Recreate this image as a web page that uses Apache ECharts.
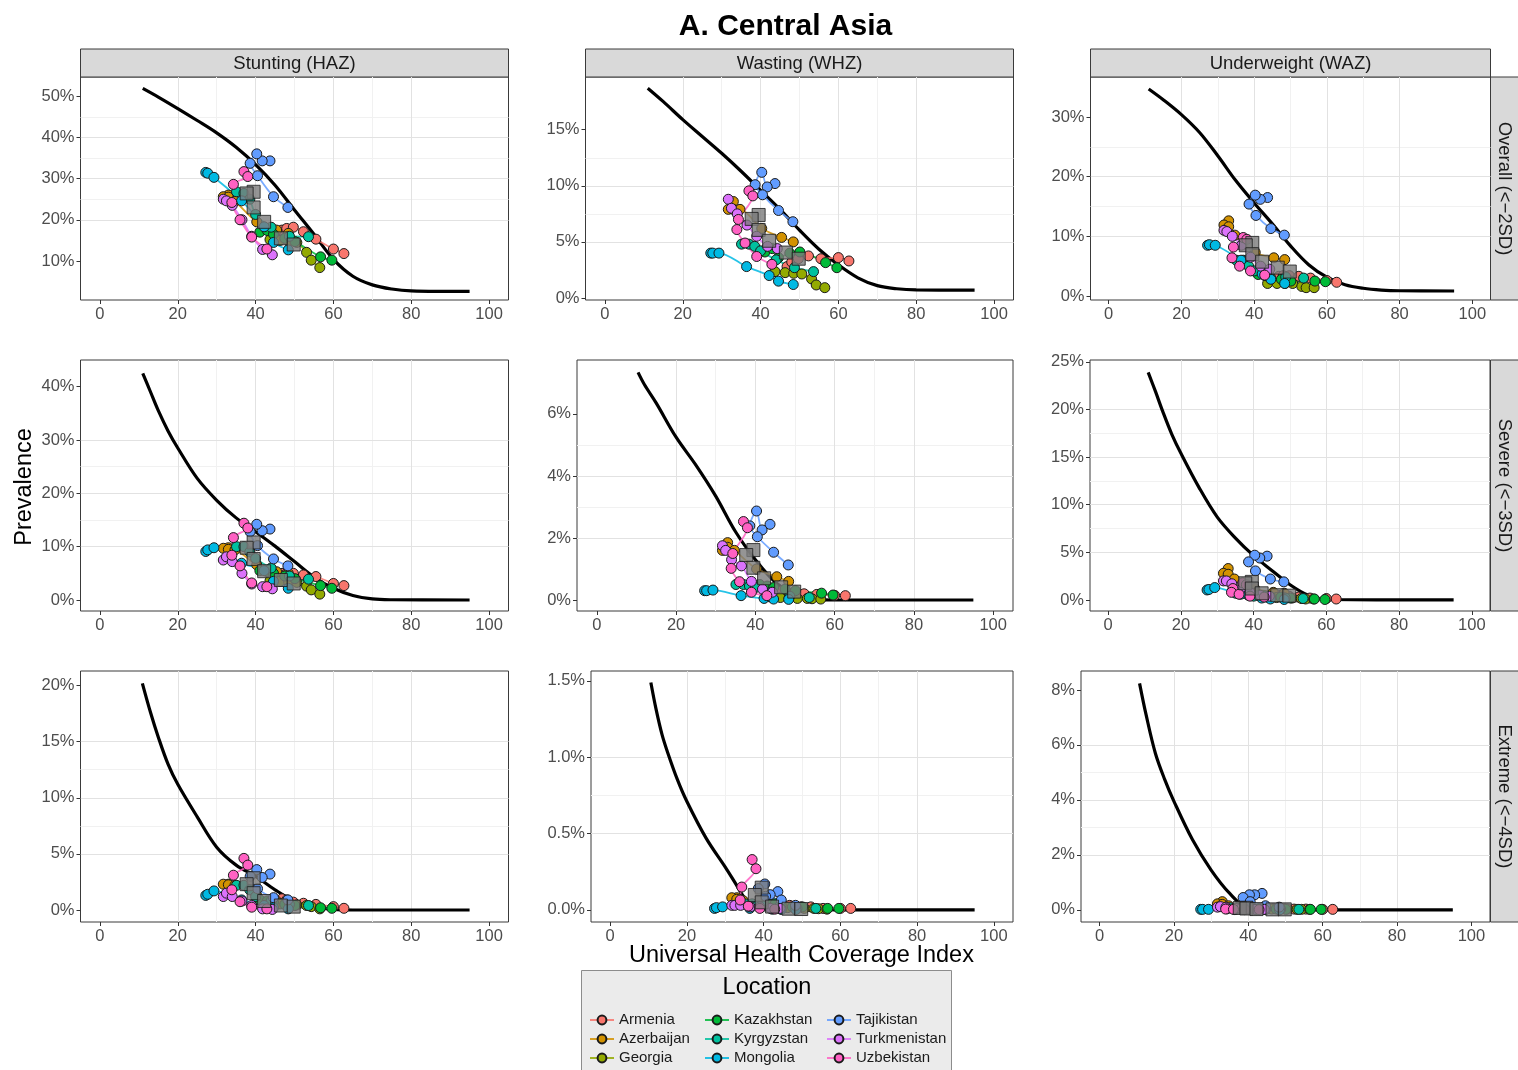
<!DOCTYPE html>
<html><head><meta charset="utf-8">
<script src="https://cdn.jsdelivr.net/npm/echarts@6/dist/echarts.min.js"></script>
<style>html,body{margin:0;padding:0;background:#fff}#chart{width:1518px;height:1070px}</style>
</head><body><div id="chart"></div>
<script>
// ---------------- DATA ----------------
const countries = ['Armenia','Azerbaijan','Georgia','Kazakhstan','Kyrgyzstan','Mongolia','Tajikistan','Turkmenistan','Uzbekistan'];

// Universal Health Coverage index trajectories (x values), one per country, in time order
const uhcArmenia      = [46.8, 48, 49.7, 52.3, 55.5, 60, 62.7];
const uhcAzerbaijan   = [33, 31.7, 33, 34.7, 40.3, 45.4, 48.4];
const uhcGeorgia      = [43.7, 46.3, 48.5, 50.6, 53.1, 54.3, 56.5];
const uhcKazakhstan   = [41.1, 43, 44.6, 47.5, 50.1, 56.7, 59.6];
const uhcKyrgyzstan   = [35.1, 37, 38.5, 40, 44, 48.7, 53.6];
const uhcMongolia     = [27.2, 27.7, 29.3, 36.4, 42.2, 44.6, 48.4];
const uhcTajikistan   = [43.7, 41.7, 40.3, 38.6, 40.5, 44.6, 48.3];
const uhcTurkmenistan = [31.7, 32.5, 34, 36.5, 39, 41.8, 44.3];
const uhcUzbekistan   = [37, 38, 34.3, 33.9, 36, 39, 42.9];
const uhcRegion       = [39.5, 37.7, 39.5, 42.2, 46.5, 49.8];

// prevalence (%) per panel, rows in country order
const stuntingOverall = [
  [17.5, 17.9, 18.2, 17.1, 15.3, 12.9, 11.8],
  [26, 25.6, 25.5, 24.5, 19.5, 17.5, 16.7],
  [15.2, 15.0, 14.8, 14.5, 12.1, 10.2, 8.4],
  [17, 17.4, 16.5, 15.5, 14.7, 11.0, 10.2],
  [26.8, 26.4, 25, 21.3, 18.2, 16, 15.9],
  [31.5, 31.3, 30.3, 24.6, 18.3, 14.5, 12.7],
  [34.3, 34.3, 36, 33.7, 30.7, 25.6, 23],
  [25, 24.6, 23.5, 20, 16, 12.8, 11.5],
  [31.7, 30.5, 28.6, 24.2, 20, 15.8, 12.9]];
const wastingOverall = [
  [2.8, 3.2, 3.5, 3.75, 3.5, 3.6, 3.3],
  [8.6, 7.9, 7.9, 7.9, 6.2, 5.4, 5.0],
  [2.35, 2.26, 2.2, 2.14, 1.7, 1.16, 0.92],
  [4.1, 4.4, 3.6, 4.0, 4.1, 3.15, 2.7],
  [4.8, 4.8, 4.6, 4.2, 3.4, 2.7, 2.35],
  [4.0, 4.0, 4.0, 2.8, 2.0, 1.5, 1.2],
  [10.2, 9.9, 11.2, 10.1, 9.2, 7.8, 6.8],
  [8.8, 8.0, 7.5, 6.5, 5.5, 4.6, 4.4],
  [9.55, 9.1, 7.0, 6.1, 4.9, 3.7, 3.0]];
const underweightOverall = [
  [3.3, 3.4, 3.4, 3.3, 3.0, 2.6, 2.3],
  [12.6, 11.9, 11.6, 10.2, 7.3, 6.4, 6.1],
  [2.1, 2.1, 2.1, 2.1, 1.6, 1.4, 1.4],
  [3.6, 3.4, 3.0, 2.8, 2.5, 2.5, 2.4],
  [6.0, 6.0, 5.0, 4.2, 3.6, 3.2, 3.0],
  [8.5, 8.6, 8.5, 6.0, 3.7, 2.8, 2.1],
  [16.5, 16.2, 16.9, 15.4, 13.5, 11.3, 10.2],
  [11, 10.8, 10, 8.5, 6.5, 5.0, 4.5],
  [9.8, 9.5, 8.2, 6.4, 5.0, 4.2, 3.5]];
const stuntingSevere = [
  [5, 5, 5, 4.7, 4.4, 3.1, 2.7],
  [9.8, 9.7, 9.5, 9.4, 6.6, 5.3, 5.0],
  [3.6, 3.5, 3.4, 3.3, 2.6, 1.9, 1.1],
  [5.5, 5.3, 5, 4.5, 4, 2.7, 2.2],
  [10, 10, 9, 7.8, 6, 4.5, 3.9],
  [9.1, 9.4, 9.8, 6.9, 5.5, 3.5, 2.2],
  [13.3, 13.0, 14.2, 12.8, 10.2, 7.7, 6.4],
  [7.5, 8.1, 7.2, 5, 3, 2.5, 2.1],
  [14.4, 13.5, 11.7, 8.4, 6.4, 3.2, 2.5]];
const wastingSevere = [
  [0.3, 0.25, 0.22, 0.2, 0.18, 0.15, 0.14],
  [1.85, 1.6, 1.7, 1.6, 1.0, 0.75, 0.6],
  [0.1, 0.08, 0.06, 0.05, 0.05, 0.04, 0.03],
  [0.5, 0.45, 0.4, 0.35, 0.3, 0.22, 0.16],
  [0.5, 0.5, 0.45, 0.4, 0.25, 0.12, 0.08],
  [0.3, 0.3, 0.32, 0.14, 0.05, 0.03, 0.02],
  [2.44, 2.26, 2.87, 2.39, 2.04, 1.54, 1.13],
  [1.75, 1.6, 1.3, 1.1, 0.6, 0.35, 0.25],
  [2.53, 2.33, 1.5, 1.02, 0.59, 0.25, 0.14]];
const underweightSevere = [
  [0.5, 0.5, 0.4, 0.3, 0.2, 0.15, 0.1],
  [3.3, 2.8, 2.7, 2.2, 1.2, 0.8, 0.7],
  [0.3, 0.25, 0.2, 0.2, 0.15, 0.1, 0.1],
  [0.5, 0.45, 0.35, 0.3, 0.2, 0.1, 0.05],
  [0.7, 0.7, 0.5, 0.4, 0.3, 0.2, 0.15],
  [1.05, 1.1, 1.3, 0.6, 0.2, 0.1, 0.05],
  [4.6, 4.4, 4.7, 4.0, 3.05, 2.2, 1.9],
  [2.0, 2.0, 1.7, 1.2, 0.8, 0.5, 0.4],
  [1.8, 1.6, 1.2, 0.8, 0.6, 0.4, 0.3]];
const stuntingExtreme = [
  [1.0, 0.9, 0.7, 0.6, 0.5, 0.3, 0.15],
  [2.3, 2.3, 2.25, 2.2, 1.3, 0.8, 0.7],
  [0.6, 0.55, 0.5, 0.45, 0.4, 0.3, 0.1],
  [0.9, 0.8, 0.7, 0.5, 0.4, 0.2, 0.15],
  [2.2, 2.2, 1.8, 1.2, 0.8, 0.5, 0.4],
  [1.3, 1.4, 1.7, 0.9, 0.4, 0.2, 0.1],
  [3.2, 2.9, 3.6, 3.0, 1.9, 1.1, 0.9],
  [1.2, 1.5, 1.2, 0.8, 0.4, 0.1, 0.05],
  [4.6, 4.0, 3.1, 1.8, 0.74, 0.25, 0.1]];
const wastingExtreme = [
  [0.03, 0.02, 0.02, 0.02, 0.01, 0.01, 0.01],
  [0.08, 0.08, 0.07, 0.06, 0.03, 0.02, 0.02],
  [0.02, 0.015, 0.012, 0.01, 0.01, 0.008, 0.005],
  [0.04, 0.04, 0.03, 0.02, 0.02, 0.01, 0.01],
  [0.04, 0.04, 0.03, 0.025, 0.02, 0.01, 0.01],
  [0.01, 0.015, 0.02, 0.01, 0.005, 0.003, 0.002],
  [0.12, 0.1, 0.17, 0.14, 0.09, 0.065, 0.03],
  [0.03, 0.03, 0.03, 0.02, 0.02, 0.01, 0.01],
  [0.33, 0.27, 0.15, 0.065, 0.025, 0.01, 0.005]];
const underweightExtreme = [
  [0.05, 0.05, 0.04, 0.03, 0.03, 0.02, 0.02],
  [0.3, 0.22, 0.2, 0.15, 0.08, 0.05, 0.04],
  [0.04, 0.03, 0.03, 0.03, 0.02, 0.02, 0.02],
  [0.06, 0.05, 0.04, 0.03, 0.02, 0.02, 0.02],
  [0.08, 0.08, 0.06, 0.05, 0.04, 0.03, 0.02],
  [0.02, 0.02, 0.02, 0.01, 0.01, 0.01, 0.0],
  [0.6, 0.55, 0.55, 0.45, 0.3, 0.15, 0.1],
  [0.1, 0.12, 0.1, 0.07, 0.04, 0.02, 0.02],
  [0.06, 0.05, 0.04, 0.03, 0.02, 0.01, 0.01]];

// Central Asia regional values (grey squares)
const regionStuntingOverall    = [26.8, 26.4, 23.0, 19.5, 15.5, 14.0];
const regionWastingOverall     = [7.4, 7.05, 6.07, 5.1, 4.05, 3.5];
const regionUnderweightOverall = [8.9, 8.5, 7.0, 5.75, 4.75, 4.1];
const regionStuntingSevere     = [10.8, 9.8, 7.7, 5.4, 3.75, 3.1];
const regionWastingSevere      = [1.61, 1.45, 1.04, 0.7, 0.41, 0.27];
const regionUnderweightSevere  = [1.9, 1.75, 1.2, 0.7, 0.5, 0.45];
const regionStuntingExtreme    = [2.83, 2.3, 1.5, 0.8, 0.4, 0.3];
const regionWastingExtreme     = [0.146, 0.098, 0.05, 0.022, 0.008, 0.006];
const regionUnderweightExtreme = [0.08, 0.07, 0.05, 0.03, 0.02, 0.02];

// expected prevalence by UHC (black curves)
const curveStuntOverallX = [11, 15, 20, 25, 30, 35, 40, 45, 50, 55, 60, 65, 70, 75, 80, 95];
const curveStuntOverallY = [51.9, 49.8, 47, 44.1, 41.1, 37.6, 33.4, 28.4, 22.4, 16.5, 10.4, 6.3, 4.2, 3.2, 2.75, 2.6];
const curveWastOverallX = [11, 15, 20, 25, 30, 35, 40, 45, 50, 55, 60, 65, 70, 75, 80, 95];
const curveWastOverallY = [18.7, 17.5, 15.9, 14.4, 12.9, 11.3, 9.6, 7.9, 6.05, 4.35, 2.95, 1.8, 1.1, 0.82, 0.72, 0.7];
const curveUnderOverallX = [11, 15, 20, 25, 30, 35, 40, 45, 50, 55, 60, 65, 70, 75, 80, 95];
const curveUnderOverallY = [34.7, 32.9, 30.4, 27.4, 23.5, 19.3, 15.6, 12.1, 8.4, 5.25, 3.15, 1.9, 1.3, 1.0, 0.88, 0.84];
const curveStuntSevereX = [11, 13, 15, 17.5, 20, 25, 30, 35, 40, 45, 50, 55, 60, 65, 70, 75, 95];
const curveStuntSevereY = [42.5, 39, 35.5, 31.7, 28.5, 22.8, 18.7, 15.4, 12.8, 10.1, 7.2, 4.3, 2.2, 0.85, 0.2, 0.05, 0];
const curveWastSevereX = [10.4, 12, 15, 20, 25, 30, 35, 40, 45, 50, 55, 60, 95];
const curveWastSevereY = [7.34, 6.95, 6.35, 5.25, 4.35, 3.35, 2.2, 1.3, 0.58, 0.17, 0.02, 0, 0];
const curveUnderSevereX = [11, 13, 15, 17.5, 20, 25, 30, 35, 40, 45, 50, 55, 60, 95];
const curveUnderSevereY = [23.9, 21.9, 19.8, 17.4, 15.4, 11.8, 8.7, 6.5, 4.65, 3.1, 1.6, 0.5, 0.05, 0];
const curveStuntExtremeX = [10.9, 13, 15, 17.5, 20, 25, 30, 35, 40, 45, 50, 55, 60, 65, 95];
const curveStuntExtremeY = [20.2, 17.6, 15.4, 13.0, 11.2, 8.3, 5.6, 4.0, 3.0, 1.8, 0.8, 0.3, 0.05, 0, 0];
const curveWastExtremeX = [10.6, 12, 13.5, 15, 17.5, 20, 25, 30, 32.5, 35, 37.5, 40, 95];
const curveWastExtremeY = [1.49, 1.31, 1.15, 1.03, 0.855, 0.71, 0.47, 0.28, 0.18, 0.08, 0.025, 0.003, 0];
const curveUnderExtremeX = [10.75, 12.5, 15, 17.5, 20, 25, 30, 35, 40, 45, 95];
const curveUnderExtremeY = [8.24, 7.1, 5.7, 4.75, 3.95, 2.55, 1.45, 0.6, 0.05, 0, 0];

// tick labels
const xTicks = [0, 20, 40, 60, 80, 100];
const xMinor = [10, 30, 50, 70, 90];
const yTicksStuntOverall = [10, 20, 30, 40, 50];
const yTicksWastOverall = [0, 5, 10, 15];
const yTicksUnderOverall = [0, 10, 20, 30];
const yTicksStuntSevere = [0, 10, 20, 30, 40];
const yTicksWastSevere = [0, 2, 4, 6];
const yTicksUnderSevere = [0, 5, 10, 15, 20, 25];
const yTicksStuntExtreme = [0, 5, 10, 15, 20];
const yTicksWastExtreme = [0, 0.5, 1.0, 1.5];
const yTicksUnderExtreme = [0, 2, 4, 6, 8];

const colTitles = ['Stunting (HAZ)', 'Wasting (WHZ)', 'Underweight (WAZ)'];
const rowTitles = ['Overall (<\u22122SD)', 'Severe (<\u22123SD)', 'Extreme (<\u22124SD)'];

// ---------------- STYLE / LAYOUT ----------------
const colors = ['#F8766D','#D39200','#93AA00','#00BA38','#00C19F','#00B9E3','#619CFF','#DB72FB','#FF61C3'];
const uhc = [uhcArmenia, uhcAzerbaijan, uhcGeorgia, uhcKazakhstan, uhcKyrgyzstan, uhcMongolia, uhcTajikistan, uhcTurkmenistan, uhcUzbekistan];
const FONT = '"Liberation Sans", Arial, Helvetica, sans-serif';

const panels = [
  {d: stuntingOverall, r: regionStuntingOverall, cx: curveStuntOverallX, cy: curveStuntOverallY, min: 0.53, max: 54.66, step: 10, ticks: yTicksStuntOverall, dec: 0, g: [80.5, 77, 428, 223]},
  {d: wastingOverall, r: regionWastingOverall, cx: curveWastOverallX, cy: curveWastOverallY, min: -0.18, max: 19.7, step: 5, ticks: yTicksWastOverall, dec: 0, g: [585.5, 77, 428, 223]},
  {d: underweightOverall, r: regionUnderweightOverall, cx: curveUnderOverallX, cy: curveUnderOverallY, min: -0.67, max: 36.7, step: 10, ticks: yTicksUnderOverall, dec: 0, g: [1090.5, 77, 400, 223]},
  {d: stuntingSevere, r: regionStuntingSevere, cx: curveStuntSevereX, cy: curveStuntSevereY, min: -2.06, max: 45.0, step: 10, ticks: yTicksStuntSevere, dec: 0, g: [80.5, 360, 428, 251]},
  {d: wastingSevere, r: regionWastingSevere, cx: curveWastSevereX, cy: curveWastSevereY, min: -0.355, max: 7.74, step: 2, ticks: yTicksWastSevere, dec: 0, g: [577, 360, 436, 251]},
  {d: underweightSevere, r: regionUnderweightSevere, cx: curveUnderSevereX, cy: curveUnderSevereY, min: -1.16, max: 25.2, step: 5, ticks: yTicksUnderSevere, dec: 0, g: [1090, 360, 400, 251]},
  {d: stuntingExtreme, r: regionStuntingExtreme, cx: curveStuntExtremeX, cy: curveStuntExtremeY, min: -1.07, max: 21.3, step: 5, ticks: yTicksStuntExtreme, dec: 0, g: [80.5, 671, 428, 251]},
  {d: wastingExtreme, r: regionWastingExtreme, cx: curveWastExtremeX, cy: curveWastExtremeY, min: -0.079, max: 1.565, step: 0.5, ticks: yTicksWastExtreme, dec: 1, g: [591, 671, 422, 251]},
  {d: underweightExtreme, r: regionUnderweightExtreme, cx: curveUnderExtremeX, cy: curveUnderExtremeY, min: -0.44, max: 8.69, step: 2, ticks: yTicksUnderExtreme, dec: 0, g: [1081, 671, 409, 251]}
];

const grids = [], xAxes = [], yAxes = [], series = [];
panels.forEach((p, i) => {
  grids.push({left: p.g[0], top: p.g[1], width: p.g[2], height: p.g[3], show: true,
    borderColor: '#3A3A3A', borderWidth: 1, backgroundColor: 'transparent'});
  const minorY = p.ticks.slice(0, -1).map(t => t + p.step / 2)
    .concat(p.ticks[0] - p.step / 2, p.ticks[p.ticks.length - 1] + p.step / 2)
    .filter(v => v > p.min && v < p.max);
  xAxes.push({
    type: 'value', gridIndex: i, min: -5, max: 105, minInterval: 20, maxInterval: 20, z: 1, position: 'bottom',
    axisLine: {show: false, onZero: false},
    axisTick: {show: true, length: 4, customValues: xTicks, lineStyle: {color: '#333333', width: 1}},
    axisLabel: {show: true, customValues: xTicks, color: '#4D4D4D', fontSize: 16.5, fontFamily: FONT, margin: 6},
    splitLine: {show: true, showMinLine: false, showMaxLine: false, lineStyle: {color: '#E2E2E2', width: 1}}
  });
  xAxes.push({
    type: 'value', gridIndex: i, min: -5, max: 105, minInterval: 10, maxInterval: 10, z: 0, position: 'top',
    axisLine: {show: false, onZero: false}, axisTick: {show: false, customValues: xMinor}, axisLabel: {show: false},
    splitLine: {show: true, showMinLine: false, showMaxLine: false, lineStyle: {color: '#F1F1F1', width: 1}}
  });
  yAxes.push({
    type: 'value', gridIndex: i, min: p.min, max: p.max, minInterval: p.step, maxInterval: p.step, z: 1, position: 'left',
    axisLine: {show: false, onZero: false},
    axisTick: {show: true, length: 4, customValues: p.ticks, lineStyle: {color: '#333333', width: 1}},
    axisLabel: {show: true, customValues: p.ticks, color: '#4D4D4D', fontSize: 16.5, fontFamily: FONT, margin: 6,
      formatter: v => (p.dec ? Number(v).toFixed(p.dec) : String(Math.round(v))) + '%'},
    splitLine: {show: true, showMinLine: false, showMaxLine: false, lineStyle: {color: '#E2E2E2', width: 1}}
  });
  yAxes.push({
    type: 'value', gridIndex: i, min: p.min, max: p.max, minInterval: p.step / 2, maxInterval: p.step / 2, z: 0, position: 'right',
    axisLine: {show: false, onZero: false}, axisTick: {show: false, customValues: minorY}, axisLabel: {show: false},
    splitLine: {show: true, showMinLine: false, showMaxLine: false, lineStyle: {color: '#F1F1F1', width: 1}}
  });
  const xi = 2 * i, yi = 2 * i;
  series.push({
    type: 'line', xAxisIndex: xi, yAxisIndex: yi, silent: true, symbol: 'none', smooth: 0.35, z: 2,
    lineStyle: {color: '#000000', width: 3.2},
    data: p.cx.map((x, k) => [x, p.cy[k]])
  });
  countries.forEach((c, ci) => {
    series.push({
      type: 'line', name: c, xAxisIndex: xi, yAxisIndex: yi, silent: true, smooth: 0.3, z: 3,
      symbol: 'circle', symbolSize: 10, showSymbol: true,
      itemStyle: {color: colors[ci], borderColor: '#1A1A1A', borderWidth: 1},
      lineStyle: {color: colors[ci], width: 1.8, opacity: 0.85},
      emphasis: {disabled: true},
      data: uhc[ci].map((x, k) => [x, p.d[ci][k]])
    });
  });
  series.push({
    type: 'scatter', name: 'Central Asia', xAxisIndex: xi, yAxisIndex: yi, silent: true, z: 4,
    symbol: 'rect', symbolSize: 13,
    itemStyle: {color: '#7A7A7A', borderColor: '#1A1A1A', borderWidth: 1},
    data: uhcRegion.map((x, k) => [x, p.r[k]])
  });
});

const graphic = [];
// title
graphic.push({type: 'text', x: 785.5, y: 27, style: {text: 'A. Central Asia', font: 'bold 30px ' + FONT, fill: '#000',
  align: 'center', verticalAlign: 'middle', textAlign: 'center', textVerticalAlign: 'middle'}});
// top strips
[0, 1, 2].forEach(c => {
  const g = panels[c].g;
  graphic.push({type: 'rect', shape: {x: g[0], y: 49, width: g[2], height: 28}, style: {fill: '#D9D9D9', stroke: '#3A3A3A', lineWidth: 1}});
  graphic.push({type: 'text', x: g[0] + g[2] / 2, y: 63.5, style: {text: colTitles[c], font: '18.5px ' + FONT, fill: '#1A1A1A',
    align: 'center', verticalAlign: 'middle', textAlign: 'center', textVerticalAlign: 'middle'}});
});
// right strips
[2, 5, 8].forEach((pi, r) => {
  const g = panels[pi].g;
  graphic.push({type: 'rect', shape: {x: 1490.5, y: g[1], width: 28, height: g[3]}, style: {fill: '#D9D9D9', stroke: '#3A3A3A', lineWidth: 1}});
  graphic.push({type: 'text', x: 1504.5, y: g[1] + g[3] / 2, rotation: -Math.PI / 2, style: {text: rowTitles[r], font: '18.5px ' + FONT, fill: '#1A1A1A',
    align: 'center', verticalAlign: 'middle', textAlign: 'center', textVerticalAlign: 'middle'}});
});
// axis titles
graphic.push({type: 'text', x: 801.5, y: 956, style: {text: 'Universal Health Coverage Index', font: '23.5px ' + FONT, fill: '#000',
  align: 'center', verticalAlign: 'middle', textAlign: 'center', textVerticalAlign: 'middle'}});
graphic.push({type: 'text', x: 25, y: 487, rotation: Math.PI / 2, style: {text: 'Prevalence', font: '23.5px ' + FONT, fill: '#000',
  align: 'center', verticalAlign: 'middle', textAlign: 'center', textVerticalAlign: 'middle'}});
// legend box
graphic.push({type: 'rect', z: -1, shape: {x: 581.5, y: 970.5, width: 370, height: 110}, style: {fill: '#EBEBEB', stroke: '#8C8C8C', lineWidth: 1}});
graphic.push({type: 'text', x: 767, y: 988, style: {text: 'Location', font: '23.5px ' + FONT, fill: '#000',
  align: 'center', verticalAlign: 'middle', textAlign: 'center', textVerticalAlign: 'middle'}});

const legendCols = [[0, 1, 2], [3, 4, 5], [6, 7, 8]];
const legendLeft = [589, 704, 826];
const legends = legendCols.map((cols, k) => ({
  orient: 'vertical', left: legendLeft[k], top: 1012, padding: 0, itemWidth: 24, itemHeight: 11, itemGap: 3,
  selectedMode: false, data: cols.map(i => countries[i]),
  textStyle: {fontSize: 15, color: '#1A1A1A', fontFamily: FONT, lineHeight: 16}
}));

const chart = echarts.init(document.getElementById('chart'), null, {renderer: 'canvas'});
chart.setOption({
  animation: false,
  backgroundColor: '#ffffff',
  grid: grids, xAxis: xAxes, yAxis: yAxes, series: series,
  legend: legends, graphic: graphic
});
</script></body></html>
